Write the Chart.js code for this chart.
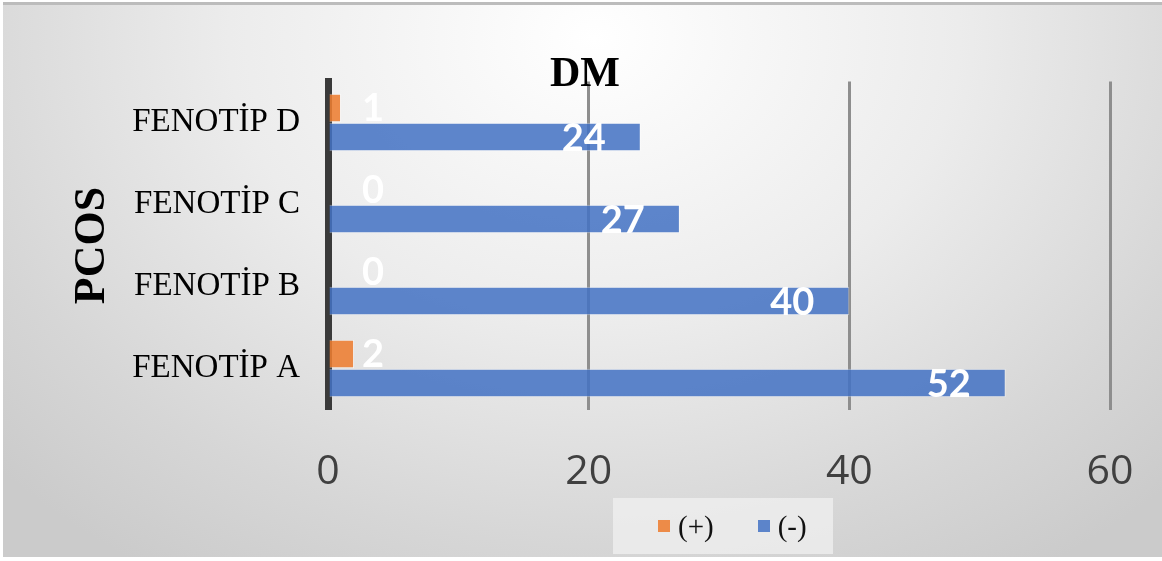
<!DOCTYPE html>
<html>
<head>
<meta charset="utf-8">
<script src="https://cdn.jsdelivr.net/npm/chart.js@4"></script>
<style>
    html, body { margin: 0; padding: 0; background: #fff; }
    #wrap { position: relative; width: 1162px; height: 561px; overflow: hidden; }
    #panel {
        position: absolute; left: 3px; top: 2px; width: 1159px; height: 555px;
        border-top: 3px solid #bcbcbc; box-sizing: border-box;
        background: radial-gradient(ellipse 70% 115% at 51% 6%, #ffffff 0%, #ececec 45%, #d6d6d6 80%, #cbcbcb 100%);
    }
    #chart { position: absolute; left: 0; top: 0; }
    #legend {
        position: absolute; left: 613px; top: 498px; width: 220px; height: 56px;
        box-sizing: border-box; padding-left: 45px;
        background: rgba(240,240,240,0.75);
        display: flex; align-items: center; gap: 44px;
        font-family: "Liberation Serif", serif; font-size: 29px; color: #111;
    }
    #legend .item { display: flex; align-items: center; }
    #legend .box { width: 12px; height: 12px; margin-right: 8px; }
</style>
</head>
<body>
<div id="wrap">
    <div id="panel"></div>
    <canvas id="chart" width="1162" height="561"></canvas>
    <div id="legend"></div>
</div>
<script>
// categories listed top to bottom
const categories = ['FENOTİP D', 'FENOTİP C', 'FENOTİP B', 'FENOTİP A'];
const positive = [1, 0, 0, 2];
const negative = [24, 27, 40, 52];
const seriesNames = ['(+)', '(-)'];
const xTicks = [0, 20, 40, 60];

const orange = 'rgba(237,125,49,0.88)';
const blue = 'rgba(68,114,196,0.86)';

// white value labels: (+) sits just right of the axis, (-) sits inside the bar end
const valueLabels = {
    id: 'valueLabels',
    afterDatasetsDraw(chart) {
        const ctx = chart.ctx;
        const zero = chart.scales.x.getPixelForValue(0);
        ctx.save();
        ctx.fillStyle = '#ffffff';
        ctx.font = 'bold 38px Lato, "Open Sans", sans-serif';
        ctx.textBaseline = 'middle';
        chart.data.datasets.forEach((ds, i) => {
            const meta = chart.getDatasetMeta(i);
            meta.data.forEach((bar, j) => {
                const v = ds.data[j];
                if (i === 0) {
                    ctx.textAlign = 'center';
                    ctx.fillText(String(v), zero + 45, bar.y + 1);
                } else {
                    ctx.textAlign = 'right';
                    ctx.fillText(String(v), bar.x - 35, bar.y + 2);
                }
            });
        });
        ctx.restore();
    }
};

const ctx = document.getElementById('chart').getContext('2d');
const chart = new Chart(ctx, {
    type: 'bar',
    data: {
        labels: categories,
        datasets: [
            {
                label: seriesNames[0],
                data: positive,
                backgroundColor: orange,
                borderColor: 'rgba(255,255,255,0.45)',
                borderWidth: 1,
                categoryPercentage: 0.71,
                barPercentage: 0.98
            },
            {
                label: seriesNames[1],
                data: negative,
                backgroundColor: blue,
                borderColor: 'rgba(255,255,255,0.45)',
                borderWidth: 1,
                categoryPercentage: 0.71,
                barPercentage: 0.98
            }
        ]
    },
    options: {
        indexAxis: 'y',
        responsive: false,
        animation: false,
        layout: { padding: { left: 60, right: 52, top: 0, bottom: 61.5 } },
        plugins: {
            legend: { display: false },
            tooltip: { enabled: false },
            title: {
                display: true,
                text: 'DM',
                color: '#000',
                font: { family: '"Liberation Serif", serif', size: 42, weight: 'bold', lineHeight: 1 },
                padding: { top: 54, bottom: -14.5 }
            }
        },
        scales: {
            x: {
                min: 0,
                max: 60,
                afterBuildTicks(scale) {
                    scale.ticks = xTicks.map(v => ({ value: v }));
                },
                afterFit(scale) {
                    scale.height = 90;
                    // keep the edge labels from pushing the plot area inward
                    scale.paddingLeft = 0;
                    scale.paddingRight = 0;
                },
                ticks: {
                    color: '#404040',
                    padding: 38,
                    font: { family: '"Open Sans", sans-serif', size: 41 }
                },
                grid: { color: '#8e8e8e', lineWidth: 3, drawTicks: false },
                border: { display: false }
            },
            y: {
                z: 1,
                afterFit(scale) { scale.width = 268; },
                ticks: {
                    color: '#000',
                    padding: 28,
                    font: { family: '"Liberation Serif", serif', size: 33 }
                },
                grid: { display: false, drawTicks: false },
                border: { display: true, color: '#3a3a3a', width: 7 },
                title: {
                    display: true,
                    text: 'PCOS',
                    color: '#000',
                    font: { family: '"Liberation Serif", serif', size: 44, weight: 'bold', lineHeight: 1.2 },
                    padding: { top: 6, bottom: 0 }
                }
            }
        }
    },
    plugins: [valueLabels]
});

// legend boxes from the series names and colours
const legend = document.getElementById('legend');
[orange, blue].forEach((c, i) => {
    const item = document.createElement('div');
    item.className = 'item';
    const box = document.createElement('span');
    box.className = 'box';
    box.style.background = c;
    const txt = document.createElement('span');
    txt.textContent = seriesNames[i];
    item.appendChild(box);
    item.appendChild(txt);
    legend.appendChild(item);
});
</script>
</body>
</html>
